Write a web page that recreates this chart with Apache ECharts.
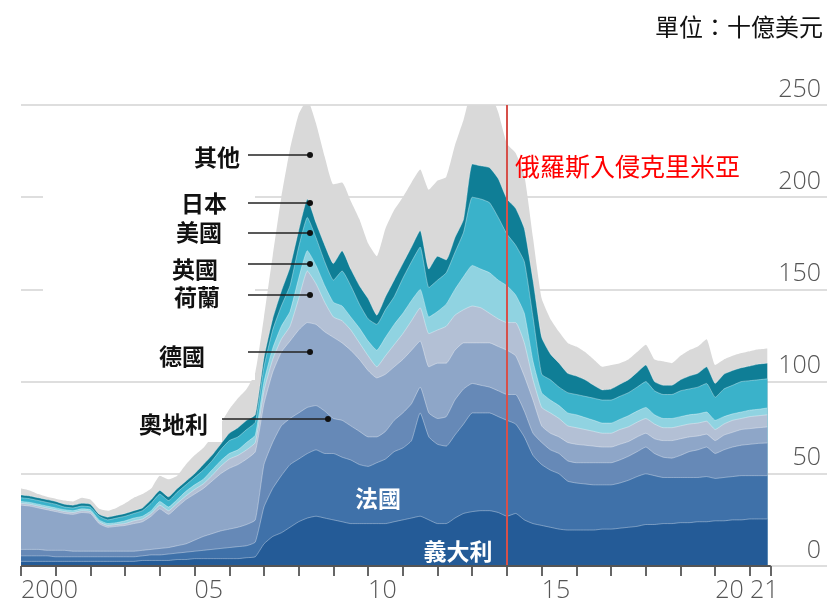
<!DOCTYPE html>
<html>
<head>
<meta charset="utf-8">
<script src="https://cdn.jsdelivr.net/npm/echarts@6/dist/echarts.min.js"></script>
<style>
html,body{margin:0;padding:0;background:#fff;}
#chart{width:827px;height:606px;}
</style>
</head>
<body>
<div id="chart"></div>
<script>
// Quarterly observations, 2000 Q1 .. 2021 Q3 (87 points)
const startYear = 2000;
const quarterCount = 87;
const quarters = Array.from({length: quarterCount}, (_, i) => startYear + i / 4);

// Series values (billions USD), listed bottom -> top of the stack
const italy = [2.5,2.5,2.5,2.5,2.5,2.5,2.5,2.5,2.5,2.5,2.5,2.5,2.5,2.5,3,3,3,3,3.5,3.5,4,4,4,4,4,4,4.5,5,12,16,18,21,24,26,27,26,25,24,23,23,23,23,23,24,25,26,27,25,23,23,26,28.5,29.5,30,30,29,27,28.5,25,23,22,21,20,19.5,19.5,19.5,19.5,20,20,20.5,21,21.5,22.5,22.5,23,23,23.5,23.5,24,24,24.5,24.5,25,25,25.5,25.5,25.5];
const france = [3,3,3,3,2.5,2.5,2.5,2.5,2.5,2.5,2.5,2.5,2.5,2.5,2.5,3,3,3.5,3.5,4,4,4.5,5,5.5,6,6.5,6.5,8,20,26,31,34,34,35,36,35,36,35,34.5,32,31,33,35,38,39,42,56,45,43,42,45,48.5,53.5,53,53,52,52,48.5,45,37,33,31,30,26.5,25.5,25,24.5,24,24,24.5,25.5,27,27.5,26.5,25,25,24.5,24.5,24,24.5,23,23.5,23.5,24,23.5,23.5,23.5];
const austria = [3.5,3.5,3.5,3,3.5,3.5,3,3,3,3,3,3,3,3,3,3,3.5,3.5,4,4.5,6,7.5,8.5,9.5,10,10.5,11.5,12,23,25,27,25,25,25,24,23,19,20,18.5,18,16,14,15,17,19,20,14,13,14,16,19,19,16,15,14,14,14,16,14,12,12,11,11,11,11,11.5,12,12,12,12.5,13,13.5,14.5,12,11,10.5,12,14,15,16,13.5,15,16,16.5,17,17.5,17.7];
const germany = [24,23.5,22.5,22,21,20,20,21,20.5,15,13,13.5,14,15,15.5,18,21.5,18,21,24,25,26,28.5,31,33,34,35.5,37,33,38,40,42,45,46,44,43,44,42,41,39,36,32,31,29,29,29,25,25,30,29,27,25,22,23,24,24,24,21,19,18,9,9,9,10,10,9.5,9,8.5,8.5,8.5,8,8,7.5,8,9,9.5,9,8,7.5,7,7,8,8,8.5,8.5,8.5,8.7];
const netherlands = [1,1,1,1,1,1,1,1,1,1,1,1,1,1.5,1.5,1.5,2,2,2,2,2.5,2.5,3,4,5,5,5,5,7,7,7,8,17,28,22,16,11,12,11,9,8,6,10,12,14,16,18,18,18,20,19,18,20,19,16,15,15,18,18,11,10,11,10,9,9,8.5,8,7.5,7.5,8,8,8,8,8,7,7,7,7,7,7,6,6,6.5,6,6.5,6.5,6.6];
const uk = [1,1,1,1,1,1,1,1,1,1,1,1,1.5,1.5,1.5,1.5,2,2,2,2.5,2.5,2.5,3,3,3,3,4,4,5,6,7,8,11,11,10,9,8,8,7,8,8,9,10,11,11,11,10,9,10,12,14,18,22,21,22,21,20,15,16,10,8,7,7,7,7,6.5,6,5.5,5.5,5.5,6,6,6,5,5,5,5,5,5,5,5,4,3.5,3.5,3.5,3.5,3.7];
const usa = [2,2,2,2,2,1.5,1.5,1.5,1.5,2,2,2.5,2.5,2.5,3,4,4,3.5,4,3.5,4,5,5,6,7,7,7,7,8,10,11,14,17,18,15,13,12,19,17,13,12,14,15,15,19,21,23,16,17,17,20,24,37,38,38,34,28,27,28,24,10,11,10,11,11,11.5,12,12.5,12.5,12.5,12.5,13,14,13,13,13,14,14,14.5,15.5,12.5,15,15.5,16.5,16,16,15.8];
const japan = [1.5,1.5,1.5,1.5,1.5,1.5,1.5,1.5,1.5,1,1.5,1.5,1.5,1.5,1.5,2,2,2,2,2,2,3,3,3,4,5,5,4,5,6,8,10,9,10,8,9,9,11,9,10,11,5,7,9,8,8,9,10,13,7,8,7,18,18,19,21,19,20,18,20,20,14,13,10.5,10,9,7,5.5,6,6.5,7,8,9,5,5,5,6,7,7.5,9,7.5,8,8,7.5,8,8.5,8.5];
const others = [3.5,3,2,1.5,1.5,2,2,3,2.5,3,3.5,4,5.5,7,7.5,6,8,9.5,7,9,10,9,10,11,13,16,17,23,22,34,51,64,63,54,54,48,43,37,37,36,30,32,37,38,36,35,33,43,41,45,50,54,40,37,40,36,30,30,29,23,21,19,17,16.5,16,15,14,12.5,13,11.5,11,11,11,12,13,12,13,14,14.5,15,10,8,8,8,8,8,8];

const seriesNames = ['義大利','法國','奧地利','德國','荷蘭','英國','美國','日本','其他'];
const seriesValues = [italy, france, austria, germany, netherlands, uk, usa, japan, others];
const seriesColors = ['#245b97','#3f71a9','#6689b7','#8ea6c8','#b3c0d5','#90d3e1','#3ab2ca','#0f7e96','#d9d9d9'];

const tickYears = [2000,2001,2002,2003,2004,2005,2006,2007,2008,2009,2010,2011,2012,2013,2014,2015,2016,2017,2018,2019,2020,2021];
const labelYears = [2000,2005,2010,2015,2020,2021];
const labelTexts = {2000:'2000',2005:'05',2010:'10',2015:'15',2020:'20',2021:'21'};
const axisEnd = 2021.6;
const eventYear = 2014;
const eventLabel = '俄羅斯入侵克里米亞';
const unitLabel = '單位：十億美元';

// Stack the layers (running totals), then draw top layer first so each lower layer covers it
const running = quarters.map(() => 0);
const stacked = seriesValues.map(arr => arr.map((v, k) => (running[k] += v)));

const chart = echarts.init(document.getElementById('chart'), null, {renderer: 'canvas'});

const series = [];
for (let i = seriesNames.length - 1; i >= 0; i--) {
  series.push({
    name: seriesNames[i],
    type: 'line',
    data: quarters.map((q, k) => [q, stacked[i][k]]),
    showSymbol: false,
    smooth: 0.15,
    lineStyle: i === seriesNames.length - 1 ? {width: 0} : {width: 1, color: 'rgba(255,255,255,0.35)'},
    areaStyle: {color: seriesColors[i], opacity: 1, origin: 'start'},
    emphasis: {disabled: true},
    z: 2
  });
}

// red event line and dark baseline drawn on the last-drawn series
series[series.length - 1].markLine = {
  silent: true,
  symbol: ['none', 'none'],
  label: {show: false},
  animation: false,
  data: [
    [{coord: [eventYear, 0], lineStyle: {color: '#d6504a', width: 2, type: 'solid'}},
     {coord: [eventYear, 250]}],
    [{coord: [startYear, 0], lineStyle: {color: '#555', width: 2, type: 'solid'}},
     {coord: [axisEnd, 0]}]
  ]
};

const labelFont = '"Noto Sans CJK TC", "Noto Sans CJK SC", sans-serif';
const black = '#111';

function txt(text, x, y, opts) {
  return {
    type: 'text', z: 100,
    style: Object.assign({text: text, x: x, y: y, fill: black, font: 'bold 23px ' + labelFont, textAlign: 'right', textVerticalAlign: 'middle'}, opts || {})
  };
}
function leader(x1, y, x2) {
  return [
    {type: 'line', z: 100, shape: {x1: x1, y1: y, x2: x2, y2: y}, style: {stroke: '#222', lineWidth: 1.5}},
    {type: 'circle', z: 100, shape: {cx: x2, cy: y, r: 3}, style: {fill: '#111'}}
  ];
}

const graphics = [
  {type: 'rect', z: 90, shape: {x: 43, y: 128, width: 212, height: 252}, style: {fill: '#fff'}},
  {type: 'rect', z: 90, shape: {x: 128, y: 405, width: 94, height: 37}, style: {fill: '#fff'}},
  txt('其他', 240, 157),
  txt('日本', 227, 203),
  txt('美國', 222, 232),
  txt('英國', 218, 269),
  txt('荷蘭', 220, 297),
  txt('德國', 205, 356),
  txt('奧地利', 208, 424),
  txt('法國', 378, 498, {fill: '#fff', textAlign: 'center'}),
  txt('義大利', 458, 551, {fill: '#fff', textAlign: 'center'}),
  ...leader(248, 155, 310),
  ...leader(248, 203, 310),
  ...leader(248, 233, 310),
  ...leader(248, 264, 310),
  ...leader(248, 295, 310),
  ...leader(248, 352, 310),
  ...leader(222, 419, 328),
  txt(eventLabel, 515, 166, {fill: '#f00', font: '25px ' + labelFont, textAlign: 'left'}),
  txt(unitLabel, 823, 27, {fill: '#111', font: '24px ' + labelFont, textAlign: 'right'})
];

chart.setOption({
  animation: false,
  backgroundColor: '#fff',
  grid: {left: 21, right: 0, top: 105, bottom: 40, containLabel: false},
  xAxis: {
    type: 'value', min: startYear, max: 2023.22,
    axisLine: {show: false},
    splitLine: {show: false},
    axisTick: {show: true, length: 10, lineStyle: {color: '#666', width: 2}, customValues: tickYears.concat([axisEnd])},
    axisLabel: {
      customValues: labelYears,
      formatter: v => labelTexts[v] || '',
      align: 'left', margin: 12,
      fontSize: 25, color: '#555', fontFamily: '"Open Sans", sans-serif', fontWeight: 300
    }
  },
  yAxis: {
    type: 'value', position: 'right', min: 0, max: 250, interval: 50,
    axisLine: {show: false}, axisTick: {show: false},
    splitLine: {show: true, lineStyle: {color: '#dedede', width: 2}},
    axisLabel: {
      inside: true, margin: 6, fontSize: 25, color: '#555',
      fontFamily: '"Open Sans", sans-serif', fontWeight: 300,
      verticalAlign: 'bottom', padding: [0, 0, 3, 0]
    }
  },
  series: series,
  graphic: graphics
});
</script>
</body>
</html>
